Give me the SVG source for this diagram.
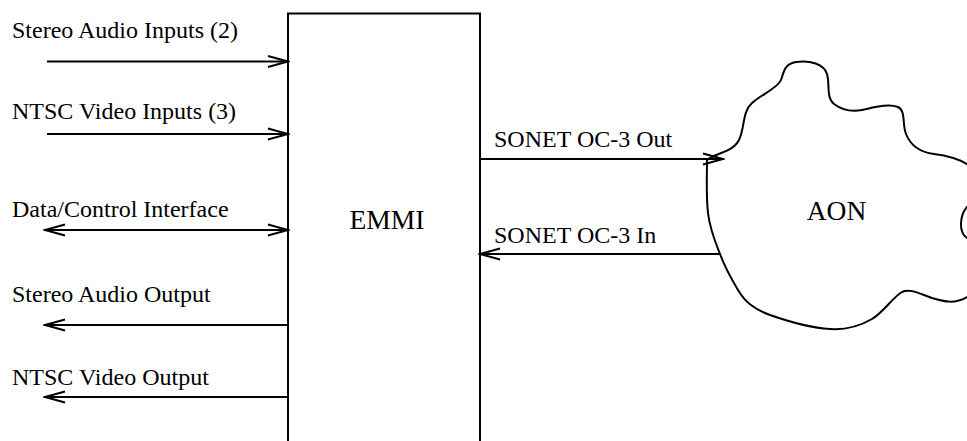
<svg xmlns="http://www.w3.org/2000/svg" width="967" height="441" viewBox="0 0 967 441">
<style>
text{font-family:"Liberation Serif","Times New Roman",serif;fill:#000}
.lbl{font-size:24px}
.big{font-size:27.5px;text-anchor:middle}
.ln{stroke:#000;stroke-width:2;fill:none}
.arr{marker-end:url(#ah)}
.bi{marker-start:url(#ah);marker-end:url(#ah)}
</style>
<defs>
<marker id="ah" viewBox="-22 -7 24 14" refX="0" refY="0" markerWidth="24" markerHeight="14" markerUnits="userSpaceOnUse" orient="auto-start-reverse">
<path d="M-20,-5.5 L0,0 L-20,5.5" fill="none" stroke="#000" stroke-width="2"/>
</marker>
</defs>
<rect width="967" height="441" fill="#fff"/>
<g id="emmi">
<path class="ln" d="M288,441 V13.5 H480 V441"/>
<text class="big" x="387" y="229">EMMI</text>
</g>
<g id="aon">
<path class="ln" d="M707,160 C718,152 733,152 739,140 C745,128 742,112 752,103 C762,94 778,88 781,80 C784,72 784,64 796,62 C810,60 824,64 827,74 C830,84 826,98 834,104 C842,110 852,112 862,110 C872,108 888,103 898,107 C906,111 902,124 906,134 C910,144 918,152 934,154 C950,156 960,159 970,166 L985,200 L967,207 C960,215 958,232 967,238 L985,240 L985,296 L967,297 C955,304 945,302 932,298 C920,294 910,288 902,292 C892,298 884,312 872,319 C860,326 846,330 830,329 C812,328 790,322 770,315 C754,309 745,302 738,290 C732,280 724,265 720,254 C716,244 710,230 708,213 C706,196 707,175 707,160 Z"/>
<text class="big" x="836.5" y="220">AON</text>
</g>
<g id="labels">
<text class="lbl" x="12" y="38">Stereo Audio Inputs (2)</text>
<text class="lbl" x="12" y="119">NTSC Video Inputs (3)</text>
<text class="lbl" x="12" y="217">Data/Control Interface</text>
<text class="lbl" x="12" y="302">Stereo Audio Output</text>
<text class="lbl" x="12" y="385">NTSC Video Output</text>
<text class="lbl" x="494" y="147">SONET OC-3 Out</text>
<text class="lbl" x="494" y="243">SONET OC-3 In</text>
</g>
<g id="connectors">
<line class="ln arr" x1="47" y1="61.5" x2="288" y2="61.5"/>
<line class="ln arr" x1="47" y1="134" x2="288" y2="134"/>
<line class="ln bi" x1="45" y1="230" x2="288" y2="230"/>
<line class="ln arr" x1="288" y1="325" x2="45" y2="325"/>
<line class="ln arr" x1="288" y1="397" x2="45" y2="397"/>
<line class="ln arr" x1="480" y1="159" x2="723" y2="159"/>
<line class="ln arr" x1="720" y1="254" x2="480" y2="254"/>
</g>
</svg>
